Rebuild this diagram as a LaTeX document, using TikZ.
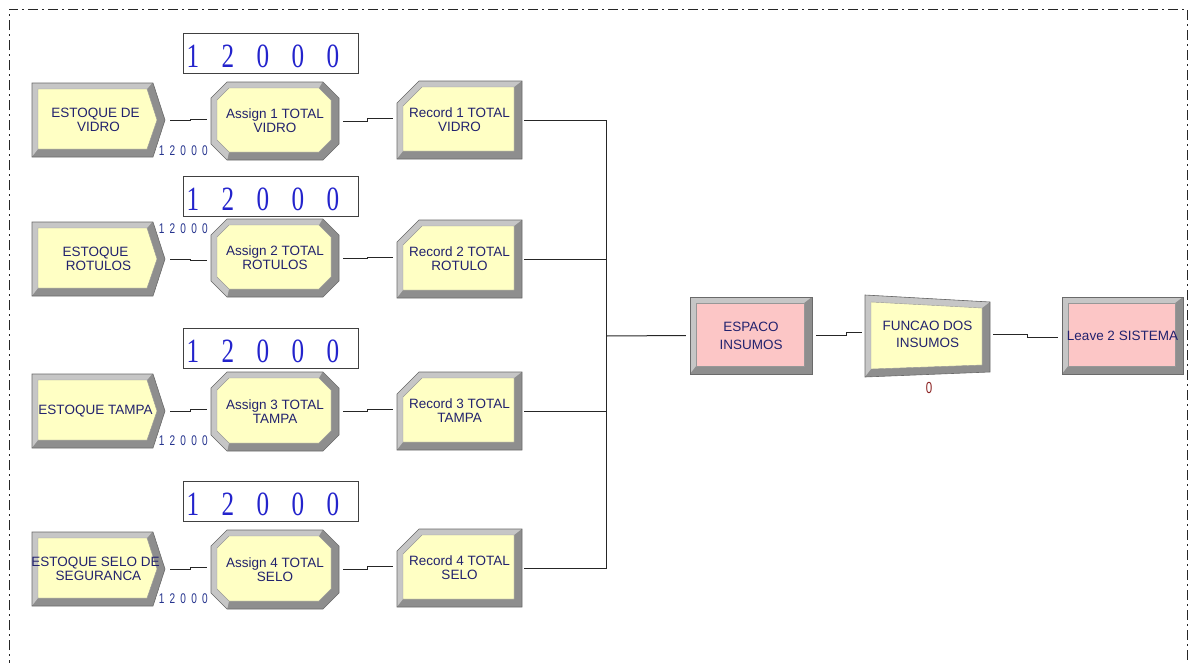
\documentclass[tikz,border=0pt]{standalone}
\usepackage{fontspec}
\setmainfont{Liberation Sans}
\newfontfamily\numserif{Liberation Serif}
\usepackage{graphicx}

\definecolor{modyellow}{HTML}{FFFFC4}
\definecolor{modpink}{HTML}{FCC6C6}
\definecolor{bevlight}{HTML}{C6C6C6}
\definecolor{bevdark}{HTML}{8E8E8E}
\definecolor{bevedge}{HTML}{6A6A6A}
\definecolor{modtext}{HTML}{22226E}
\definecolor{cblue}{HTML}{2323CC}
\definecolor{sblue}{HTML}{26348E}
\definecolor{zred}{HTML}{8B2222}

% bevelled module: #1 outer outline, #2 clip of the lit (top/left) part,
% #3 face outline, #4 face colour
\newcommand{\bevelmod}[4]{%
  \fill[bevdark] #1;
  \begin{scope}\clip #2; \fill[bevlight] #1;\end{scope}
  \draw[bevedge, line width=0.6pt] #1;
  \fill[#4] #3;
  \draw[bevedge!70, line width=0.4pt] #3;
}

% Create module (arrow-shaped): name, x0, y0, x1, y1, text
\newcommand{\createmod}[6]{%
  \bevelmod{(#2,#3) -- ({#4-12},#3) -- (#4,{(#3+#5)/2}) -- ({#4-12},#5) -- (#2,#5) -- cycle}
    {({#2-1},{#3-1}) -- ({#4-12},{#3-1}) -- ({#4-18},{#3+6}) -- ({#2+6},{#5-8}) -- ({#2-1},{#5+1}) -- cycle}
    {({#2+6},{#3+6}) -- ({#4-18},{#3+6}) -- ({#4-8},{(#3+#5)/2}) -- ({#4-18},{#5-8}) -- ({#2+6},{#5-8}) -- cycle}
    {modyellow}
  \node[modbody, minimum width={#4-#2}, minimum height={#5-#3}] (#1) at ({(#2+#4)/2},{(#3+#5)/2}) {\hspace*{-6pt}#6};
}

% Assign module (octagon): name, x0, y0, x1, y1, text
\newcommand{\assignmod}[6]{%
  \bevelmod{({#2+16},#3) -- ({#4-16},#3) -- (#4,{#3+16}) -- (#4,{#5-16}) -- ({#4-16},#5) -- ({#2+16},#5) -- (#2,{#5-16}) -- (#2,{#3+16}) -- cycle}
    {({#2-1},{#3-1}) -- ({#4-16},{#3-1}) -- ({#4-20},{#3+6}) -- ({#2+18},{#5-8}) -- ({#2+16},{#5+1}) -- ({#2-1},{#5+1}) -- cycle}
    {({#2+18},{#3+6}) -- ({#4-20},{#3+6}) -- ({#4-8},{#3+18}) -- ({#4-8},{#5-20}) -- ({#4-20},{#5-8}) -- ({#2+18},{#5-8}) -- ({#2+6},{#5-20}) -- ({#2+6},{#3+18}) -- cycle}
    {modyellow}
  \node[modbody, minimum width={#4-#2}, minimum height={#5-#3}] (#1) at ({(#2+#4)/2},{(#3+#5)/2}) {#6};
}

% Record module (top-left corner cut): name, x0, y0, x1, y1, text
\newcommand{\recordmod}[6]{%
  \bevelmod{({#2+22},#3) -- (#4,#3) -- (#4,#5) -- (#2,#5) -- (#2,{#3+22}) -- cycle}
    {({#2-1},{#3-1}) -- ({#4+1},{#3-1}) -- ({#4-8},{#3+6}) -- ({#2+6},{#5-8}) -- ({#2-1},{#5+1}) -- cycle}
    {({#2+25},{#3+6}) -- ({#4-8},{#3+6}) -- ({#4-8},{#5-8}) -- ({#2+6},{#5-8}) -- ({#2+6},{#3+25}) -- cycle}
    {modyellow}
  \node[modbody, minimum width={#4-#2}, minimum height={#5-#3}] (#1) at ({(#2+#4)/2},{(#3+#5)/2}) {#6};
}

% Plain rectangular module: name, x0, y0, x1, y1, text, colour
\newcommand{\rectmod}[7]{%
  \bevelmod{(#2,#3) -- (#4,#3) -- (#4,#5) -- (#2,#5) -- cycle}
    {({#2-1},{#3-1}) -- ({#4+1},{#3-1}) -- ({#4-8},{#3+6}) -- ({#2+6},{#5-8}) -- ({#2-1},{#5+1}) -- cycle}
    {({#2+6},{#3+6}) -- ({#4-8},{#3+6}) -- ({#4-8},{#5-8}) -- ({#2+6},{#5-8}) -- cycle}
    {#7}
  \node[modbody, minimum width={#4-#2}, minimum height={#5-#3}] (#1) at ({(#2+#4)/2},{(#3+#5)/2}) {#6};
}

% digits of the counters
\newcommand{\cdig}[1]{\makebox[35pt]{\scalebox{0.74}[1]{#1}}}
\newcommand{\sdig}[1]{\makebox[10.8pt]{\scalebox{0.72}[1]{#1}}}
\newcommand{\bigcount}{\makebox[175pt][l]{\hspace{-7.5pt}\cdig1\cdig2\cdig0\cdig0\cdig0}}
\newcommand{\smallcount}{\sdig1\sdig2\sdig0\sdig0\sdig0}

\begin{document}
\begin{tikzpicture}[x=1pt, y=-1pt,
  modbody/.style={draw=none, inner sep=0pt, align=center, text=modtext,
    font=\fontsize{13.5}{14}\selectfont},
  counter/.style={draw=black!75, line width=1pt, fill=white, inner sep=0pt,
    minimum width=175, minimum height=40, text height=28pt, text depth=0pt,
    text=cblue, font=\numserif\fontsize{34}{34}\selectfont},
  countlabel/.style={inner sep=0pt, text=sblue, font=\fontsize{14}{14}\selectfont},
  zerolabel/.style={inner sep=0pt, text=zred, font=\fontsize{16}{16}\selectfont},
  conn/.style={draw=black!85, line width=1pt},
  frameline/.style={draw=black!85, line width=1pt,
    dash pattern=on 10pt off 4pt on 2pt off 4pt}]

\useasboundingbox (0,0) rectangle (1192,662);

% dash-dot frame of the model area
\draw[frameline] (9,670) -- (9,9) -- (1187,9) -- (1187,670);

% ---- row 1 : VIDRO ----
\node[counter] (ct1) at (270.5,53) {\bigcount};
\createmod{cr1}{32}{83}{165}{157}{ESTOQUE DE\\VIDRO}
\assignmod{as1}{211}{82}{339}{160}{Assign 1 TOTAL\\VIDRO}
\recordmod{rc1}{397}{81}{522}{159}{Record 1 TOTAL\\VIDRO}
\node[countlabel] (q1) at (183.3,151) {\smallcount};

% ---- row 2 : ROTULOS ----
\node[counter] (ct2) at (270.5,196) {\bigcount};
\createmod{cr2}{32}{222}{165}{296}{ESTOQUE\\ROTULOS}
\assignmod{as2}{211}{219}{339}{297}{Assign 2 TOTAL\\ROTULOS}
\recordmod{rc2}{397}{220}{522}{298}{Record 2 TOTAL\\ROTULO}
\node[countlabel] (q2) at (183.3,229) {\smallcount};

% ---- row 3 : TAMPA ----
\node[counter] (ct3) at (270.5,348) {\bigcount};
\createmod{cr3}{32}{374}{165}{448}{ESTOQUE TAMPA}
\assignmod{as3}{211}{372}{339}{451}{Assign 3 TOTAL\\TAMPA}
\recordmod{rc3}{397}{372}{522}{450}{Record 3 TOTAL\\TAMPA}
\node[countlabel] (q3) at (183.3,441) {\smallcount};

% ---- row 4 : SELO ----
\node[counter] (ct4) at (270.5,501) {\bigcount};
\createmod{cr4}{32}{532}{165}{606}{ESTOQUE SELO DE\\SEGURANCA}
\assignmod{as4}{211}{530}{339}{609}{Assign 4 TOTAL\\SELO}
\recordmod{rc4}{397}{529}{522}{607}{Record 4 TOTAL\\SELO}
\node[countlabel] (q4) at (183.3,599) {\smallcount};

% ---- common part ----
\rectmod{esp}{690}{297}{812}{374}{ESPACO\\[4pt]INSUMOS}{modpink}

% Process module, a slightly tapered box
\bevelmod{(865,295) -- (990,302) -- (990,372) -- (865,377) -- cycle}
  {(864,294) -- (991,301) -- (982,308) -- (871,369) -- (864,378) -- cycle}
  {(871,302) -- (982,308) -- (982,365) -- (871,369) -- cycle}
  {modyellow}
\node[modbody, minimum width=125, minimum height=80] (fn) at (927.5,334) {FUNCAO DOS\\[3pt]INSUMOS};
\node[zerolabel] (fz) at (929,388) {\scalebox{0.72}[1]{0}};

\rectmod{lv}{1062}{297}{1183}{374}{Leave 2 SISTEMA}{modpink}

% ---- connectors ----
\coordinate (bus) at (606,336);
\foreach \r/\s in {1/2,2/-2,3/2,4/2}{
  \draw[conn] ([xshift=5pt]cr\r.east) -- ++(20,0) |- ([xshift=-4pt,yshift=\s pt]as\r.west);
  \draw[conn] ([xshift=4pt]as\r.east) -- ++(24,0) |- ([xshift=-4pt,yshift=2pt]rc\r.west);
  \draw[conn] ([xshift=2pt]rc\r.east) -| (bus);
}
\draw[conn] (bus) -- ([xshift=-4pt]esp.west);
\draw[conn] ([xshift=4pt]esp.east) -- ++(30,0) |- ([xshift=-3pt,yshift=2pt]fn.west);
\draw[conn] ([xshift=3pt]fn.east) -- ++(34,0) |- ([xshift=-4pt,yshift=-2pt]lv.west);

\end{tikzpicture}
\end{document}
